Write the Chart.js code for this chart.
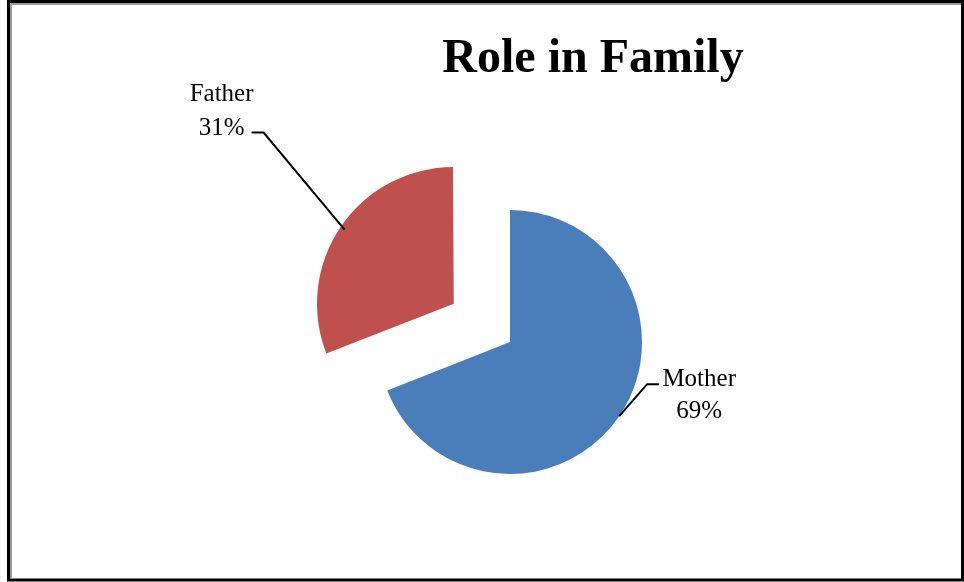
<!DOCTYPE html>
<html>
<head>
<meta charset="utf-8">
<style>
  html, body { margin: 0; padding: 0; background: #ffffff; }
  #wrap { position: relative; width: 964px; height: 582px; }
  canvas { display: block; }
</style>
<script src="https://cdn.jsdelivr.net/npm/chart.js@4.4.1/dist/chart.umd.min.js"></script>
</head>
<body>
<div id="wrap"><canvas id="c" width="964" height="582"></canvas></div>
<script>
const chartTitle = 'Role in Family';
const categories = ['Mother', 'Father'];
const values = [69, 31];
const percentLabels = ['69%', '31%'];
const sliceColors = ['#4A7EBB', '#C0504D'];
const sliceOffsets = [0, 272];

const serif = '"Liberation Serif", "Times New Roman", serif';

// leader/label layout (style only): elbow and end relative to slice anchor, text relative to end
const labelLayout = [
  { elbow: [28, -32], end: [40, -32], text: [40, 2], line2: 32 },
  { elbow: [-81, -97], end: [-93, -97], text: [-30, -32], line2: 34 }
];

const framePlugin = {
  id: 'frame',
  beforeDraw(chart) {
    const ctx = chart.ctx;
    ctx.save();
    ctx.fillStyle = '#ffffff';
    ctx.fillRect(0, 0, chart.width, chart.height);
    ctx.strokeStyle = '#000000';
    ctx.lineWidth = 3;
    ctx.strokeRect(8.5, 1.5, 954, 578.5);
    ctx.strokeStyle = '#9a9a9a';
    ctx.lineWidth = 2;
    ctx.beginPath();
    ctx.moveTo(11, 4); ctx.lineTo(961, 4);
    ctx.moveTo(11, 4); ctx.lineTo(11, 578);
    ctx.stroke();
    ctx.restore();
  },
  afterDraw(chart) {
    const ctx = chart.ctx;
    ctx.save();
    ctx.fillStyle = '#000000';
    ctx.font = 'bold 48px ' + serif;
    ctx.textAlign = 'center';
    ctx.textBaseline = 'alphabetic';
    ctx.fillText(chartTitle, 593, 72);
    ctx.restore();
  }
};

const leaderPlugin = {
  id: 'leaders',
  afterDatasetsDraw(chart) {
    const ctx = chart.ctx;
    const meta = chart.getDatasetMeta(0);
    meta.data.forEach((arc, i) => {
      const p = arc.getProps(['x', 'y', 'startAngle', 'endAngle', 'outerRadius'], true);
      const mid = (p.startAngle + p.endAngle) / 2;
      const shift = (arc.options.offset || 0) / 4;
      const r = p.outerRadius + shift;
      const ax = p.x + Math.cos(mid) * r;
      const ay = p.y + Math.sin(mid) * r;
      const L = labelLayout[i];
      ctx.save();
      ctx.strokeStyle = '#000000';
      ctx.lineWidth = 2;
      ctx.beginPath();
      ctx.moveTo(ax, ay);
      ctx.lineTo(ax + L.elbow[0], ay + L.elbow[1]);
      ctx.lineTo(ax + L.end[0], ay + L.end[1]);
      ctx.stroke();
      const tx = ax + L.end[0] + L.text[0];
      const ty = ay + L.end[1] + L.text[1];
      ctx.fillStyle = '#000000';
      ctx.font = '25px ' + serif;
      ctx.textAlign = 'center';
      ctx.textBaseline = 'alphabetic';
      ctx.fillText(categories[i], tx, ty);
      ctx.fillText(percentLabels[i], tx, ty + L.line2);
      ctx.restore();
    });
  }
};

new Chart(document.getElementById('c'), {
  type: 'pie',
  data: {
    labels: categories,
    datasets: [{
      data: values,
      backgroundColor: sliceColors,
      borderWidth: 0,
      offset: sliceOffsets,
      hoverOffset: 0
    }]
  },
  options: {
    responsive: false,
    animation: false,
    events: [],
    radius: 132,
    layout: { padding: { left: 56, top: 102, right: 0, bottom: 0 } },
    plugins: {
      legend: { display: false },
      title: { display: false },
      tooltip: { enabled: false }
    }
  },
  plugins: [framePlugin, leaderPlugin]
});
</script>
</body>
</html>
